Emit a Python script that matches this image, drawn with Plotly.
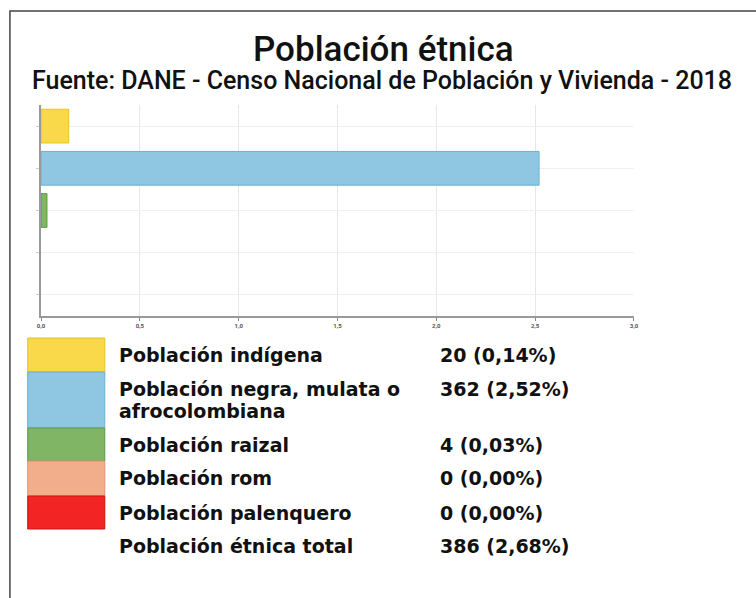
"""Población étnica - barras horizontales con tabla de leyenda."""
import plotly.graph_objects as go

categorias = [
    "Población indígena",
    "Población negra, mulata o afrocolombiana",
    "Población raizal",
    "Población rom",
    "Población palenquero",
]
etiquetas = [
    "Población indígena",
    "Población negra, mulata o<br>afrocolombiana",
    "Población raizal",
    "Población rom",
    "Población palenquero",
]
personas = [20, 362, 4, 0, 0]
porcentajes = [0.14, 2.52, 0.03, 0.00, 0.00]
total_personas = 386
total_pct = 2.68
colores = ["#F9D84A", "#8FC6E2", "#7FB565", "#F2AE8A", "#F22424"]
bordes = ["#E8C420", "#6AAED4", "#5E9A48", "#DE9570", "#D01010"]
ticks_x = [0, 0.5, 1.0, 1.5, 2.0, 2.5, 3.0]

W, H = 756, 598
LEYENDA = dict(family="DejaVu Sans", size=19, color="#111", weight="bold")


def px_x(v):
    return v / W


def px_y(v):
    return 1 - v / H


def fmt(v):
    return f"{v:.2f}".replace(".", ",")


def texto(fig, t, x, y):
    fig.add_annotation(text=t, xref="paper", yref="paper", x=px_x(x), y=px_y(y),
                       xanchor="left", yanchor="middle", showarrow=False, font=LEYENDA)


fig = go.Figure()
fig.add_trace(go.Bar(
    y=categorias, x=porcentajes, orientation="h",
    marker=dict(color=colores,
                line=dict(color=bordes, width=[1 if v > 0 else 0 for v in porcentajes])),
    width=0.8, hoverinfo="skip",
))

fig.update_layout(
    width=W, height=H,
    margin=dict(l=0, r=0, t=0, b=0),
    paper_bgcolor="white", plot_bgcolor="white",
    font=dict(family="Roboto", color="#111"),
    showlegend=False,
    xaxis=dict(
        domain=[px_x(37.5), px_x(637.5)], range=[0, 3],
        tickvals=ticks_x, ticktext=[f"{t:.1f}".replace(".", ",") for t in ticks_x],
        tickfont=dict(size=6, color="#555", weight="bold"), ticks="outside", ticklen=3,
        tickcolor="#888", showline=True, linecolor="#999", linewidth=1.5,
        showgrid=True, gridcolor="#e6e6e6", zeroline=False, fixedrange=True,
    ),
    yaxis=dict(
        domain=[px_y(316), px_y(105)], autorange="reversed",
        showticklabels=False, ticks="outside", ticklen=3, tickcolor="#ccc",
        showline=True, linecolor="#999", linewidth=1.5,
        showgrid=True, gridcolor="#f0f0f0", fixedrange=True,
    ),
)

# marco
fig.add_shape(type="rect", xref="paper", yref="paper",
              x0=px_x(6), x1=1.05, y0=-0.05, y1=px_y(11),
              line=dict(color="#444", width=1.5))

# títulos
fig.add_annotation(text="Población étnica", xref="paper", yref="paper",
                   x=px_x(384), y=px_y(50), yanchor="middle", showarrow=False,
                   font=dict(size=35, color="#111", weight=500))
fig.add_annotation(text="Fuente: DANE - Censo Nacional de Población y Vivienda - 2018",
                   xref="paper", yref="paper", x=px_x(383), y=px_y(80),
                   yanchor="middle", showarrow=False,
                   font=dict(size=25, color="#111", weight=500))

# tabla de leyenda
filas = [(338, 372), (372, 428), (428, 461), (461, 496), (496, 529)]
for i, (y0, y1) in enumerate(filas):
    fig.add_shape(type="rect", xref="paper", yref="paper",
                  x0=px_x(24), x1=px_x(102), y0=px_y(y1), y1=px_y(y0),
                  fillcolor=colores[i], line=dict(color=bordes[i], width=1))
    yc = y0 + 17
    for k, linea in enumerate(etiquetas[i].split("<br>")):
        texto(fig, linea, 114, yc + 22 * k)
    texto(fig, f"{personas[i]} ({fmt(porcentajes[i])}%)", 439, yc)

texto(fig, "Población étnica total", 114, 546)
texto(fig, f"{total_personas} ({fmt(total_pct)}%)", 439, 546)

fig.write_html("out.html", config={"displayModeBar": False},
               post_script="document.body.style.margin='0px';")
